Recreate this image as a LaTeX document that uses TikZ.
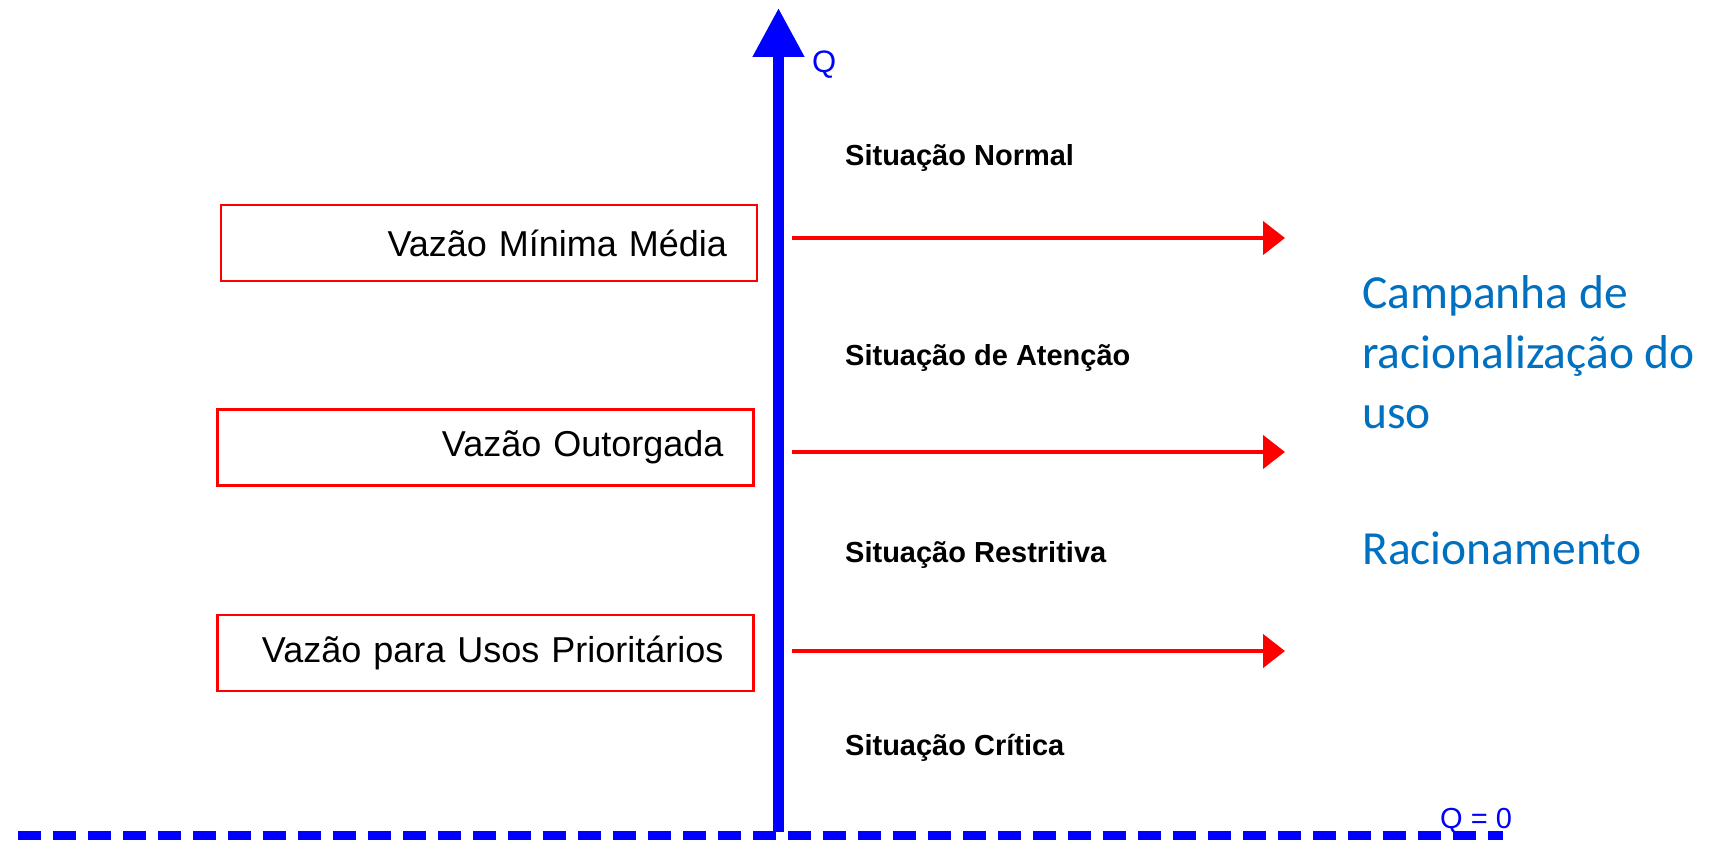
\documentclass[tikz,border=0pt]{standalone}
\usepackage{fontspec}
\setmainfont{Liberation Sans}
\newfontfamily\calibrifont{Carlito}
\usetikzlibrary{arrows.meta}
\definecolor{axisblue}{RGB}{0,0,255}
\definecolor{boxred}{RGB}{255,0,0}
\definecolor{noteblue}{RGB}{0,112,192}
\tikzset{
  levelbox/.style={draw=boxred, line width=2.5pt, text width=476pt, align=right,
    inner xsep=30pt, inner ysep=0pt, minimum height=76pt,
    font=\fontsize{36}{40}\selectfont},
  sitlabel/.style={anchor=west, inner sep=0pt, font=\fontsize{29}{32}\selectfont\bfseries},
  redarrow/.style={draw=boxred, line width=4.5pt, -{Triangle[width=33pt,length=22pt]}},
  notetext/.style={anchor=base west, inner sep=0pt, align=left, text=noteblue,
    font=\calibrifont\fontsize{47.5}{60}\selectfont},
}
\begin{document}
\begin{tikzpicture}[x=1pt,y=-1pt]
\useasboundingbox (0,0) rectangle (1716,850);
% baseline dashed line
\coordinate (dl) at (18,835.5);
\coordinate (dr) at (1503,835.5);
\draw[axisblue, line width=9pt, dash pattern=on 23pt off 12pt] (dl) -- (dr);
% vertical axis
\coordinate (ax0) at (778.5,832);
\coordinate (ax1) at (778.5,8);
\draw[axisblue, line width=11pt, -{Triangle[width=49pt,length=49pt]}] (ax0) -- (ax1);
\node[anchor=west, inner sep=0pt, text=axisblue, font=\fontsize{31}{32}\selectfont] (q) at (812,65) {Q};
\node[anchor=base west, inner sep=0pt, text=axisblue, font=\fontsize{29}{32}\selectfont] (q0) at (1440,828) {Q = 0};
% boxes
\node[levelbox] (b1) at (489,243) {Vazão Mínima Média};
\node[levelbox] (b2) at (485.5,447.5) {Vazão Outorgada};
\node[levelbox] (b3) at (485.5,653) {Vazão para Usos Prioritários};
% red arrows
\coordinate (a1s) at (792,238);  \coordinate (a1e) at (1285,238);
\coordinate (a2s) at (792,452);  \coordinate (a2e) at (1285,452);
\coordinate (a3s) at (792,651);  \coordinate (a3e) at (1285,651);
\draw[redarrow] (a1s) -- (a1e);
\draw[redarrow] (a2s) -- (a2e);
\draw[redarrow] (a3s) -- (a3e);
% situations
\node[sitlabel] (s1) at (845,158) {Situação Normal};
\node[sitlabel] (s2) at (845,358) {Situação de Atenção};
\node[sitlabel] (s3) at (845,555) {Situação Restritiva};
\node[sitlabel] (s4) at (845,748) {Situação Crítica};
% notes
\node[notetext] (n1) at (1362,428) {Campanha de\\racionalização do\\uso};
\node[notetext] (n2) at (1362,564) {Racionamento};
\end{tikzpicture}
\end{document}
